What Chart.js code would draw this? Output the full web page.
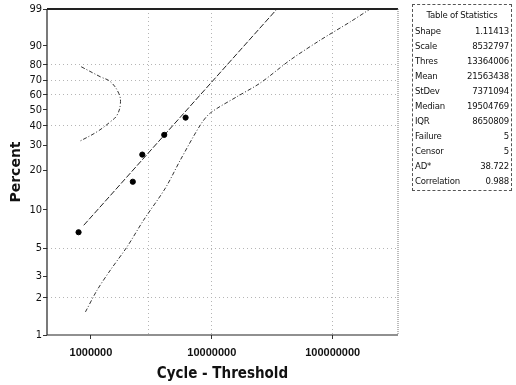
<!DOCTYPE html>
<html lang="en">
<head>
    <meta charset="UTF-8">
    <title>Weibull Probability Plot</title>
    <style>
        body {
            margin: 0;
            background: #fff;
        }

        .wrap {
            position: relative;
            width: 516px;
            height: 385px;
        }

        .stats {
            position: absolute;
            left: 412px;
            top: 4px;
            width: 98px;
            border: 1px dashed #555;
            font-family: "Liberation Sans Narrow", "DejaVu Sans Condensed", "Liberation Sans", sans-serif;
            font-size: 9.5px;
            letter-spacing: -0.2px;
            color: #111;
            padding: 1px 0 2px 0;
        }

        .stats table {
            width: 98px;
            table-layout: fixed;
            border-collapse: collapse;
        }

        .stats td {
            height: 15px;
            padding: 0 2px;
            line-height: 15px;
            white-space: nowrap;
            overflow: visible;
        }

        .stats td.n {
            width: 50px;
        }

        .stats td.v {
            text-align: right;
        }

        .stats th {
            font-weight: normal;
            height: 15px;
            line-height: 15px;
        }
    </style>
</head>
<body>
    <div class="wrap">
        <canvas id="weibullChart" width="516" height="385"></canvas>
        <div class="stats" id="stats"></div>
    </div>

    <script src="https://cdn.jsdelivr.net/npm/chart.js"></script>
    <script>
        // failure points (cycle - threshold, percent)
        const failX = [790000, 2220000, 2660000, 4040000, 6070000];
        const failP = [6.7, 16.4, 25.8, 35.1, 45.0];

        // fitted line, two ends
        const fitX = [872000, 34600000];
        const fitP = [7.6, 99];

        // confidence bands
        const upperX = [830000, 1198000, 1449000, 1698000, 1753000, 1646000, 1449000, 1125000, 793000];
        const upperP = [78.9, 72.4, 69.1, 61.1, 54.2, 46.6, 42.5, 36.8, 31.6];
        const lowerX = [901000, 1125000, 1449000, 1991000, 2732000, 4130000, 5490000, 8040000, 9720000,
            16160000, 25160000, 44550000, 78800000, 139500000, 204000000];
        const lowerP = [1.54, 2.31, 3.35, 5.14, 8.36, 14.7, 23.6, 40.6, 47.9, 58.8, 68.2, 82.9, 92.3, 97.3, 99];

        // axes
        const xTicks = [1000000, 10000000, 100000000];
        const xGrid = [3000000, 10000000, 100000000];
        const yTicks = [1, 2, 3, 5, 10, 20, 30, 40, 50, 60, 70, 80, 90, 99];
        const yGrid = [2, 5, 40, 60, 70, 80];

        const statNames = ['Shape', 'Scale', 'Thres', 'Mean', 'StDev', 'Median', 'IQR', 'Failure', 'Censor', 'AD*', 'Correlation'];
        const statValues = ['1.11413', '8532797', '13364006', '21563438', '7371094', '19504769', '8650809', '5', '5', '38.722', '0.988'];

        // Weibull probability axis
        const wb = p => Math.log(-Math.log(1 - p / 100));
        const wbInv = w => 100 * (1 - Math.exp(-Math.exp(w)));

        class WeibullScale extends Chart.Scale {
            static id = 'weibull';
            static defaults = {};

            determineDataLimits() {
                this.min = this.options.min;
                this.max = this.options.max;
            }

            buildTicks() {
                return yTicks.map(v => ({ value: v }));
            }

            getLabelForValue(v) {
                return String(v);
            }

            configure() {
                super.configure();
                this._startValue = wb(this.min);
                this._valueRange = wb(this.max) - wb(this.min);
            }

            getPixelForValue(v) {
                return this.getPixelForDecimal((wb(v) - this._startValue) / this._valueRange);
            }

            getValueForPixel(px) {
                return wbInv(this._startValue + this.getDecimalForPixel(px) * this._valueRange);
            }
        }
        Chart.register(WeibullScale);

        const pts = (xs, ps) => xs.map((x, i) => ({ x: x, y: ps[i] }));

        const framePlugin = {
            id: 'frame',
            afterDraw(chart) {
                const { ctx, chartArea: a } = chart;
                ctx.save();
                ctx.strokeStyle = '#222';
                ctx.lineWidth = 2;
                ctx.beginPath();
                ctx.moveTo(a.left, a.top);
                ctx.lineTo(a.right, a.top);
                ctx.stroke();
                ctx.lineWidth = 1.2;
                ctx.beginPath();
                ctx.moveTo(a.left, a.top);
                ctx.lineTo(a.left, a.bottom);
                ctx.lineTo(a.right, a.bottom);
                ctx.stroke();
                ctx.strokeStyle = '#777';
                ctx.lineWidth = 1;
                ctx.setLineDash([1, 1]);
                ctx.beginPath();
                ctx.moveTo(a.right, a.top);
                ctx.lineTo(a.right, a.bottom);
                ctx.stroke();
                ctx.restore();
            }
        };

        const ctx = document.getElementById('weibullChart').getContext('2d');
        const weibullChart = new Chart(ctx, {
            type: 'scatter',
            data: {
                datasets: [
                    {
                        label: 'Failures',
                        data: pts(failX, failP),
                        backgroundColor: '#000',
                        borderColor: '#000',
                        pointRadius: 2.6,
                        showLine: false
                    },
                    {
                        label: 'Fit',
                        data: pts(fitX, fitP),
                        borderColor: '#222',
                        borderWidth: 1,
                        borderDash: [6, 2],
                        pointRadius: 0,
                        showLine: true
                    },
                    {
                        label: 'Upper',
                        data: pts(upperX, upperP),
                        borderColor: '#333',
                        borderWidth: 1,
                        borderDash: [4, 2, 1, 2],
                        pointRadius: 0,
                        tension: 0.4,
                        showLine: true
                    },
                    {
                        label: 'Lower',
                        data: pts(lowerX, lowerP),
                        borderColor: '#333',
                        borderWidth: 1,
                        borderDash: [4, 2, 1, 2],
                        pointRadius: 0,
                        tension: 0.3,
                        showLine: true
                    }
                ]
            },
            options: {
                responsive: false,
                animation: false,
                layout: { padding: { top: 9, right: 118, left: 0, bottom: 0 } },
                plugins: {
                    legend: { display: false },
                    tooltip: { enabled: false }
                },
                scales: {
                    x: {
                        type: 'logarithmic',
                        min: 433000,
                        max: 347000000,
                        afterBuildTicks: s => {
                            s.ticks = [1000000, 3000000, 10000000, 100000000].map(v => ({ value: v }));
                        },
                        afterFit: s => { s.height = 50; },
                        grid: {
                            color: c => xGrid.includes(c.tick.value) ? '#b5b5b5' : 'rgba(0,0,0,0)',
                            tickColor: c => xTicks.includes(c.tick.value) ? '#333' : 'rgba(0,0,0,0)',
                            tickLength: 4
                        },
                        border: { display: false, dash: [1, 3] },
                        ticks: {
                            autoSkip: false,
                            maxRotation: 0,
                            padding: 7,
                            color: '#111',
                            font: { family: 'Liberation Sans', size: 11, weight: 'bold' },
                            callback: v => xTicks.includes(v) ? String(v) : ''
                        },
                        title: {
                            display: true,
                            text: 'Cycle - Threshold',
                            color: '#111',
                            font: { family: '"Liberation Sans Narrow", "DejaVu Sans Condensed", sans-serif', size: 15, weight: 'bold' },
                            padding: { top: 0, bottom: 2 }
                        }
                    },
                    y: {
                        type: 'weibull',
                        min: 1,
                        max: 99,
                        afterFit: s => { s.width = 47; },
                        grid: {
                            color: c => yGrid.includes(c.tick.value) ? '#b5b5b5' : 'rgba(0,0,0,0)',
                            tickColor: '#333',
                            tickLength: 4
                        },
                        border: { display: false, dash: [1, 3] },
                        ticks: {
                            padding: 1,
                            color: '#111',
                            font: { family: '"Liberation Sans Narrow", "DejaVu Sans Condensed", sans-serif', size: 11 }
                        },
                        title: {
                            display: true,
                            text: 'Percent',
                            color: '#111',
                            font: { family: 'DejaVu Sans', size: 14, weight: 'bold' },
                            padding: { top: 8, bottom: 0 }
                        }
                    }
                }
            },
            plugins: [framePlugin]
        });

        // table of statistics
        let html = '<table><tr><th colspan="2">Table of Statistics</th></tr>';
        statNames.forEach((n, i) => {
            html += '<tr><td class="n">' + n + '</td><td class="v">' + statValues[i] + '</td></tr>';
        });
        html += '</table>';
        document.getElementById('stats').innerHTML = html;
    </script>
</body>
</html>
